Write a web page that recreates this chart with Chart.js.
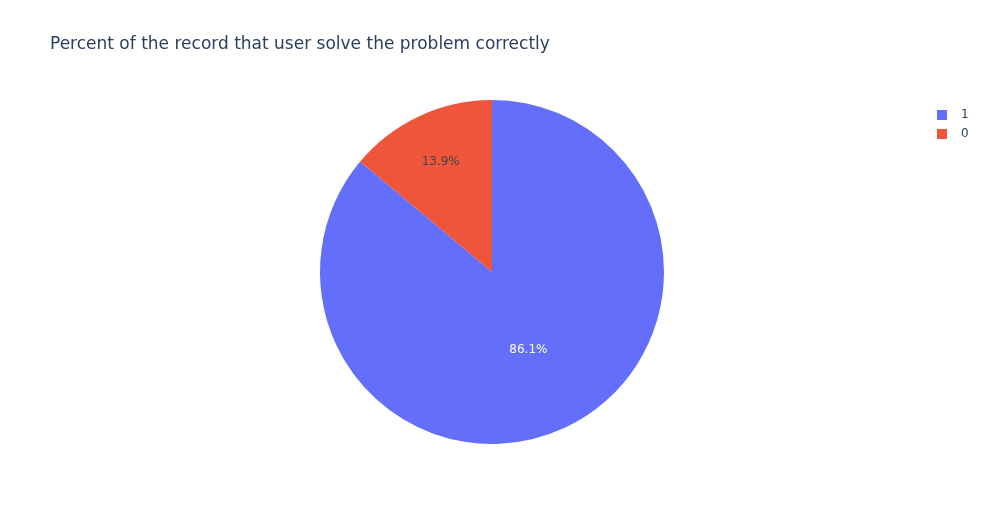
<!DOCTYPE html>
<html>
<head>
<meta charset="utf-8">
<script src="https://cdn.jsdelivr.net/npm/chart.js@4"></script>
<style>
html,body{margin:0;padding:0;background:#fff;}
#wrap{width:986px;height:525px;position:relative;}
</style>
</head>
<body>
<div id="wrap"><canvas id="c" width="986" height="525"></canvas></div>
<script>
const titleText = "Percent of the record that user solve the problem correctly";
const categories = ["1", "0"];
const values = [86.1, 13.9];
const colors = ["#636efa", "#EF553B"];

const FONT = '"DejaVu Sans", verdana, arial, sans-serif';

const overlay = {
  id: 'overlay',
  afterDraw(chart) {
    const ctx = chart.ctx;
    ctx.save();
    // title
    ctx.font = '17px ' + FONT;
    ctx.fillStyle = '#2a3f5f';
    ctx.textBaseline = 'middle';
    ctx.textAlign = 'left';
    ctx.fillText(titleText, 50, 45);

    // slice labels
    const meta = chart.getDatasetMeta(0);
    const total = values.reduce((a, b) => a + b, 0);
    const radialFrac = [0.5, 0.705];
    const textColors = ['#ffffff', '#444444'];
    meta.data.forEach((arc, i) => {
      const p = arc.getProps(['x', 'y', 'startAngle', 'endAngle', 'outerRadius'], true);
      const mid = (p.startAngle + p.endAngle) / 2;
      const r = p.outerRadius * radialFrac[i];
      const x = p.x + Math.cos(mid) * r;
      const y = p.y + Math.sin(mid) * r;
      ctx.font = '12px ' + FONT;
      ctx.fillStyle = textColors[i];
      ctx.textAlign = 'center';
      ctx.textBaseline = 'middle';
      ctx.fillText((values[i] / total * 100).toFixed(1) + '%', x, y);
    });

    // legend
    categories.forEach((c, i) => {
      const y = 115 + i * 19;
      ctx.fillStyle = colors[i];
      ctx.fillRect(937, y - 5, 10, 10);
      ctx.font = '12px ' + FONT;
      ctx.fillStyle = '#2a3f5f';
      ctx.textAlign = 'left';
      ctx.textBaseline = 'middle';
      ctx.fillText(c, 961, y);
    });
    ctx.restore();
  }
};

new Chart(document.getElementById('c'), {
  type: 'pie',
  data: {
    labels: categories,
    datasets: [{
      data: values,
      backgroundColor: colors,
      borderWidth: 0
    }]
  },
  options: {
    responsive: false,
    animation: false,
    layout: { padding: { left: 320, right: 322, top: 100, bottom: 81 } },
    plugins: {
      legend: { display: false },
      tooltip: { enabled: false },
      title: { display: false }
    }
  },
  plugins: [overlay]
});
</script>
</body>
</html>
